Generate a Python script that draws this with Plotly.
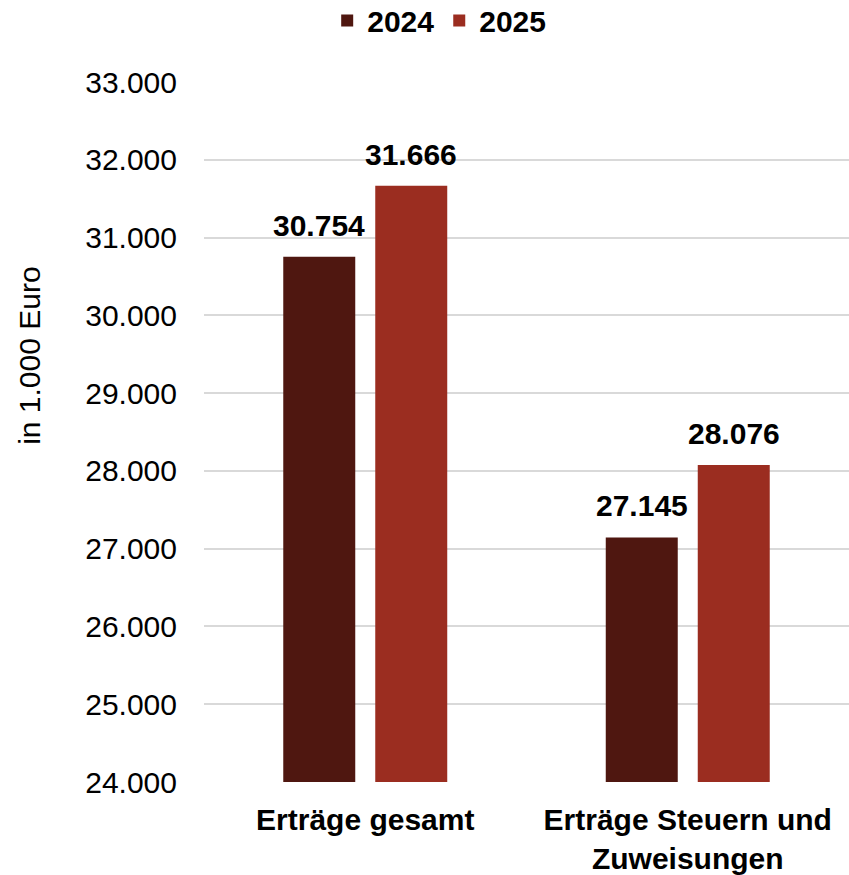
import plotly.graph_objects as go

CATEGORIES = ["Erträge gesamt", "Erträge Steuern und<br>Zuweisungen"]
YEARS = ["2024", "2025"]
VALUES_2024 = [30754, 27145]
VALUES_2025 = [31666, 28076]
SERIES = [VALUES_2024, VALUES_2025]
COLORS = ["#4f1710", "#9b2d20"]
Y_TICKS = [24000, 25000, 26000, 27000, 28000, 29000, 30000, 31000, 32000, 33000]

FONT = "Arial, Liberation Sans, sans-serif"


def fmt(v: int) -> str:
    return f"{v:,}".replace(",", ".")


fig = go.Figure()
for year, values, color in zip(YEARS, SERIES, COLORS):
    fig.add_trace(
        go.Bar(
            x=CATEGORIES,
            y=values,
            name=year,
            marker={"color": color, "line": {"width": 0}},
        )
    )

# value labels above the bars (one slot = half of the group width)
slot = 92
for i, values in enumerate(SERIES):
    for cat, v in zip(CATEGORIES, values):
        fig.add_annotation(
            x=cat,
            y=v,
            xshift=(i - 0.5) * slot,
            yshift=13,
            yanchor="bottom",
            text=f"<b>{fmt(v)}</b>",
            showarrow=False,
            font={"size": 30, "color": "#000000", "family": FONT},
        )

fig.add_annotation(
    xref="paper",
    yref="paper",
    x=-0.27,
    xanchor="center",
    y=0.6086,
    text="in 1.000 Euro",
    textangle=-90,
    showarrow=False,
    font={"size": 30, "color": "#000000", "family": FONT},
)

fig.update_layout(
    width=849,
    height=875,
    margin={"l": 204, "r": 0, "t": 82, "b": 93, "autoexpand": False},
    paper_bgcolor="white",
    plot_bgcolor="white",
    separators=",.",
    font={"family": FONT, "size": 30, "color": "#000000"},
    barmode="group",
    bargap=0.4295,
    bargroupgap=0.2174,
    showlegend=True,
    legend={
        "orientation": "h",
        "x": 0.191,
        "xanchor": "left",
        "y": 1.088,
        "yanchor": "middle",
        "font": {"size": 30, "family": FONT, "color": "#000000", "weight": "bold"},
        "itemwidth": 30,
    },
    xaxis={
        "automargin": False,
        "showgrid": False,
        "showline": False,
        "ticks": "",
        "tickfont": {"size": 30, "weight": "bold", "color": "#000000"},
        "ticklabelstandoff": 17,
    },
    yaxis={
        "automargin": False,
        "range": [24000, 33000],
        "tickvals": Y_TICKS,
        "tickformat": ",d",
        "showgrid": True,
        "gridcolor": "#d9d9d9",
        "gridwidth": 2,
        "showline": False,
        "zeroline": False,
        "ticks": "",
        "tickfont": {"size": 30, "color": "#000000"},
        "ticklabelstandoff": 26,
    },
)

fig.write_html(
    "out.html",
    config={"displayModeBar": False},
    post_script="document.body.style.margin = '0';",
)
